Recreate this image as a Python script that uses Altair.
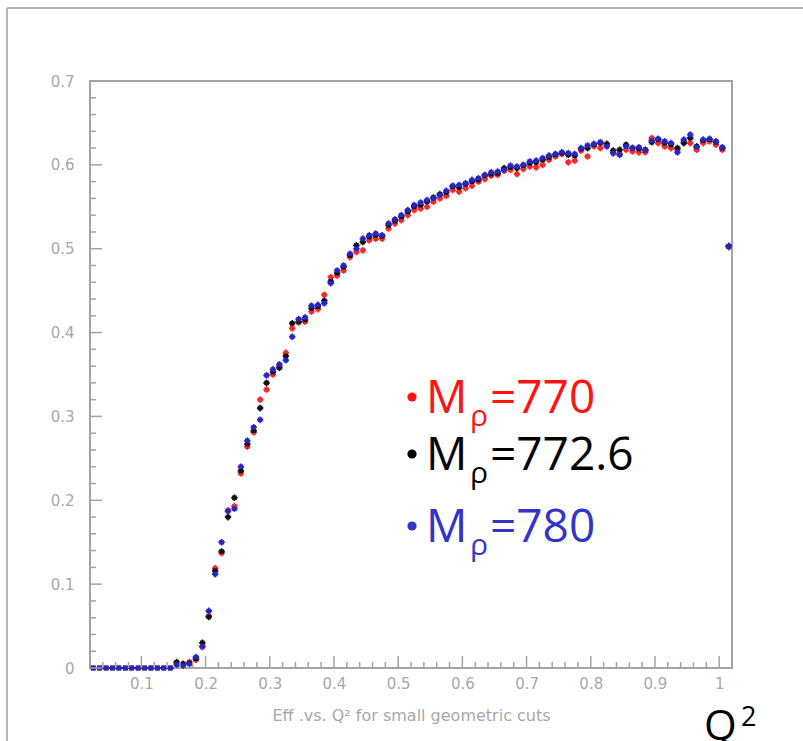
import altair as alt
import pandas as pd

# Histogram bins of width 0.01 from 0.02 to 1.02 (bin centres)
q_centres = [round(0.025 + 0.01 * i, 3) for i in range(100)]

# Efficiency per bin for the three rho-mass hypotheses
eff_770 = [
    0, 0, 0, 0, 0, 0, 0, 0, 0, 0, 0, 0, 0,
    0.006, 0.004, 0.007, 0.010, 0.025, 0.062, 0.119, 0.137, 0.188, 0.193,
    0.232, 0.264, 0.281, 0.320, 0.332, 0.350, 0.360, 0.376, 0.405, 0.412,
    0.413, 0.425, 0.428, 0.445, 0.466, 0.468, 0.474, 0.490, 0.496, 0.498,
    0.510, 0.512, 0.512, 0.524, 0.530, 0.534, 0.540, 0.546, 0.548, 0.550,
    0.556, 0.560, 0.563, 0.570, 0.568, 0.572, 0.575, 0.580, 0.583, 0.587,
    0.588, 0.593, 0.594, 0.589, 0.595, 0.598, 0.597, 0.600, 0.606, 0.610,
    0.613, 0.603, 0.605, 0.617, 0.610, 0.622, 0.620, 0.624, 0.614, 0.613,
    0.618, 0.616, 0.615, 0.615, 0.632, 0.626, 0.622, 0.620, 0.618, 0.628,
    0.626, 0.618, 0.626, 0.628, 0.624, 0.618, 0.502,
]
eff_772_6 = [
    0, 0, 0, 0, 0, 0, 0, 0, 0, 0, 0, 0, 0,
    0.007, 0.005, 0.006, 0.011, 0.030, 0.061, 0.116, 0.139, 0.180, 0.203,
    0.235, 0.267, 0.283, 0.310, 0.340, 0.353, 0.358, 0.372, 0.411, 0.413,
    0.415, 0.429, 0.431, 0.438, 0.461, 0.471, 0.478, 0.492, 0.504, 0.508,
    0.514, 0.516, 0.515, 0.528, 0.533, 0.538, 0.544, 0.550, 0.552, 0.556,
    0.561, 0.565, 0.567, 0.574, 0.573, 0.577, 0.580, 0.582, 0.587, 0.589,
    0.590, 0.596, 0.597, 0.596, 0.599, 0.602, 0.603, 0.606, 0.609, 0.612,
    0.614, 0.612, 0.611, 0.619, 0.620, 0.624, 0.626, 0.625, 0.617, 0.618,
    0.624, 0.620, 0.619, 0.618, 0.627, 0.630, 0.626, 0.624, 0.620, 0.626,
    0.632, 0.622, 0.629, 0.630, 0.627, 0.620, 0.503,
]
eff_780 = [
    0, 0, 0, 0, 0, 0, 0, 0, 0, 0, 0, 0, 0,
    0.004, 0.003, 0.005, 0.013, 0.026, 0.068, 0.112, 0.150, 0.187, 0.190,
    0.240, 0.271, 0.287, 0.296, 0.349, 0.356, 0.362, 0.367, 0.395, 0.416,
    0.418, 0.432, 0.433, 0.435, 0.459, 0.474, 0.480, 0.494, 0.500, 0.512,
    0.516, 0.518, 0.516, 0.530, 0.535, 0.540, 0.546, 0.552, 0.555, 0.558,
    0.560, 0.564, 0.569, 0.575, 0.576, 0.578, 0.582, 0.584, 0.588, 0.591,
    0.592, 0.594, 0.599, 0.598, 0.600, 0.604, 0.605, 0.608, 0.611, 0.613,
    0.615, 0.614, 0.613, 0.620, 0.623, 0.625, 0.627, 0.622, 0.614, 0.612,
    0.622, 0.620, 0.621, 0.617, 0.629, 0.631, 0.628, 0.626, 0.615, 0.630,
    0.636, 0.621, 0.630, 0.631, 0.628, 0.621, 0.503,
]

series_names = ["770", "772.6", "780"]
series_colors = ["#f42a2a", "#111111", "#2626c8"]
legend_text_colors = ["#ff1414", "#000000", "#3434c8"]

x_major = [0.1, 0.2, 0.3, 0.4, 0.5, 0.6, 0.7, 0.8, 0.9, 1.0]
x_minor = [0.04, 0.06, 0.08, 0.12, 0.14, 0.16, 0.18, 0.22, 0.24, 0.26, 0.28,
           0.32, 0.34, 0.36, 0.38, 0.42, 0.44, 0.46, 0.48, 0.52, 0.54, 0.56,
           0.58, 0.62, 0.64, 0.66, 0.68, 0.72, 0.74, 0.76, 0.78, 0.82, 0.84,
           0.86, 0.88, 0.92, 0.94, 0.96, 0.98]
y_major = [0, 0.1, 0.2, 0.3, 0.4, 0.5, 0.6, 0.7]
y_minor = [0.02, 0.04, 0.06, 0.08, 0.12, 0.14, 0.16, 0.18, 0.22, 0.24, 0.26,
           0.28, 0.32, 0.34, 0.36, 0.38, 0.42, 0.44, 0.46, 0.48, 0.52, 0.54,
           0.56, 0.58, 0.62, 0.64, 0.66, 0.68]

x_title = "Eff .vs. Q\u00b2 for small geometric cuts"

W, H = 642, 587
AXIS_GREY = "#a4a4a4"
LABEL_GREY = "#a8a8a8"
LABEL_FONT = "DejaVu Sans"
TEXT_FONT = "Open Sans"

rows = []
for name, values in zip(series_names, [eff_770, eff_772_6, eff_780]):
    for q, v in zip(q_centres, values):
        rows.append({"q": q, "eff": v, "mass": name})
points = pd.DataFrame(rows)

xs = alt.Scale(domain=[0.02, 1.02], nice=False, zero=False)
ys = alt.Scale(domain=[0, 0.7], nice=False, zero=True)
colour = alt.Color("mass:N", scale=alt.Scale(domain=series_names, range=series_colors), legend=None)

base = alt.Chart(points).transform_calculate(
    lo="datum.q - 0.005",
    hi="datum.q + 0.005",
    elo="datum.eff > 0 ? datum.eff - 0.004 : 0",
    ehi="datum.eff > 0 ? datum.eff + 0.004 : 0",
)

# bin-width horizontal bars
hbars = base.mark_rule(strokeWidth=1.8).encode(
    x=alt.X("lo:Q", scale=xs, axis=alt.Axis(
        values=x_major, format="~g", ticks=False, domain=False, grid=False,
        labelColor=LABEL_GREY, labelFont=LABEL_FONT, labelFontSize=15,
        labelPadding=8, title=x_title, titleColor=LABEL_GREY,
        titleFont=LABEL_FONT, titleFontSize=16, titleFontWeight="normal",
        titlePadding=16)),
    x2="hi:Q",
    y=alt.Y("eff:Q", scale=ys, axis=alt.Axis(
        values=y_major, format="~g", ticks=False, domain=False, grid=False,
        labelColor=LABEL_GREY, labelFont=LABEL_FONT, labelFontSize=15,
        labelPadding=16, title=None)),
    color=colour,
)

# vertical error bars
vbars = base.mark_rule(strokeWidth=1.5).encode(
    x=alt.X("q:Q", scale=xs),
    y=alt.Y("elo:Q", scale=ys),
    y2="ehi:Q",
    color=colour,
)

markers = base.mark_square(size=22, opacity=1).encode(
    x=alt.X("q:Q", scale=xs),
    y=alt.Y("eff:Q", scale=ys),
    color=colour,
)

# inward-pointing tick marks
def x_ticks(vals, length):
    return alt.Chart(pd.DataFrame({"t": vals})).mark_rule(
        color=AXIS_GREY, strokeWidth=1.5).encode(
        x=alt.X("t:Q", scale=xs), y=alt.value(H), y2=alt.value(H - length))

def y_ticks(vals, length):
    return alt.Chart(pd.DataFrame({"t": vals})).mark_rule(
        color=AXIS_GREY, strokeWidth=1.5).encode(
        y=alt.Y("t:Q", scale=ys), x=alt.value(0), x2=alt.value(length))

one = pd.DataFrame({"k": [0]})

# outer canvas edge (top and left)
edge_top = alt.Chart(one).mark_rule(color="#b4b4b4", strokeWidth=2).encode(
    x=alt.value(-83), x2=alt.value(713), y=alt.value(-73))
edge_left = alt.Chart(one).mark_rule(color="#b4b4b4", strokeWidth=2).encode(
    x=alt.value(-83), y=alt.value(-73), y2=alt.value(660))

# legend text: bullet, M, subscript rho, "=value"
legend_layers = []
baselines = [332, 389, 461]
for name, col, yb in zip(series_names, legend_text_colors, baselines):
    lab = pd.DataFrame({"m": ["M"], "rho": ["\u03c1"], "val": ["=" + name]})
    c = alt.Chart(lab)
    legend_layers.append(c.mark_circle(size=85, color=col, opacity=1).encode(
        x=alt.value(322), y=alt.value(yb - 16)))
    legend_layers.append(c.mark_text(font=TEXT_FONT, fontSize=46, color=col,
                                     align="left", baseline="alphabetic").encode(
        x=alt.value(336), y=alt.value(yb), text="m:N"))
    legend_layers.append(c.mark_text(font=TEXT_FONT, fontSize=30, color=col,
                                     align="left", baseline="alphabetic").encode(
        x=alt.value(380), y=alt.value(yb + 13), text="rho:N"))
    legend_layers.append(c.mark_text(font=TEXT_FONT, fontSize=46, color=col,
                                     align="left", baseline="alphabetic").encode(
        x=alt.value(400), y=alt.value(yb), text="val:N"))

qlab = pd.DataFrame({"q": ["Q"], "p": ["2"]})
q_main = alt.Chart(qlab).mark_text(font=TEXT_FONT, fontSize=42, color="#000000",
                                   align="left", baseline="alphabetic").encode(
    x=alt.value(614), y=alt.value(659), text="q:N")
q_sup = alt.Chart(qlab).mark_text(font=TEXT_FONT, fontSize=27, color="#000000",
                                  align="left", baseline="alphabetic").encode(
    x=alt.value(651), y=alt.value(645), text="p:N")

chart = alt.layer(
    edge_top, edge_left,
    hbars, vbars, markers,
    x_ticks(x_major, 12), x_ticks(x_minor, 6),
    y_ticks(y_major, 12), y_ticks(y_minor, 6),
    *legend_layers, q_main, q_sup,
).properties(
    width=W, height=H,
    padding={"left": 90, "top": 81, "right": 71, "bottom": 73},
    autosize=alt.AutoSizeParams(type="none"),
    background="white",
).configure_view(
    stroke=AXIS_GREY, strokeWidth=2,
)

chart.save("out.html", embed_options={"renderer": "svg", "actions": False})
